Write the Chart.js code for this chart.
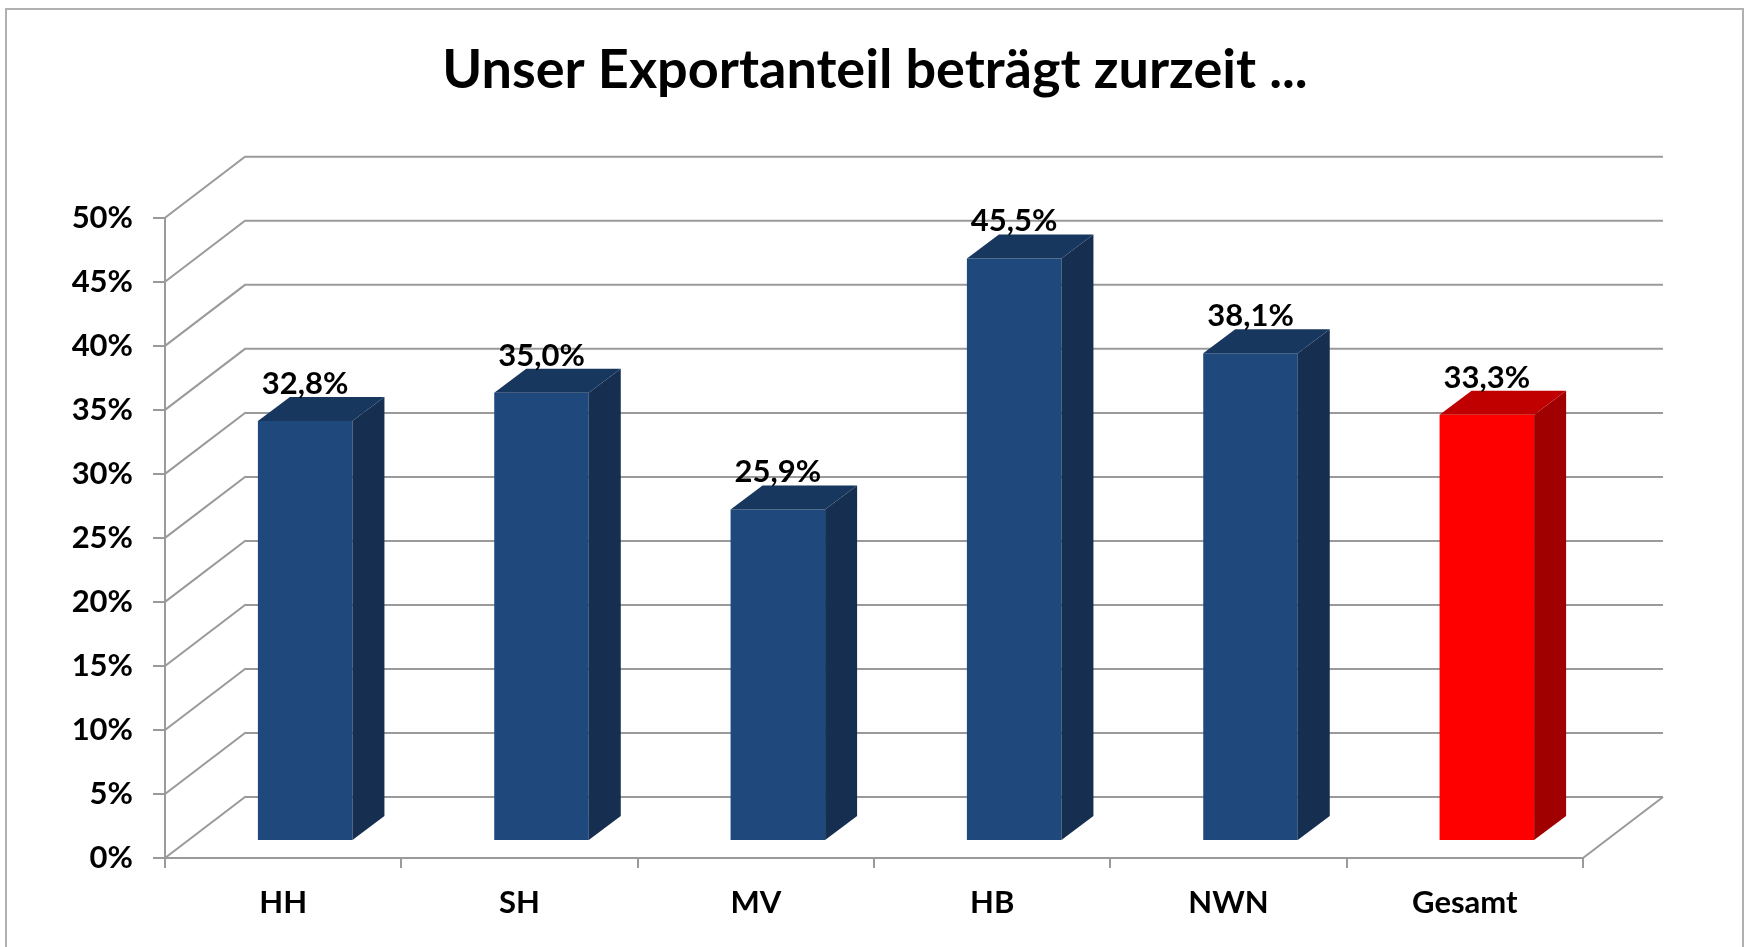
<!DOCTYPE html>
<html>
<head>
<meta charset="utf-8">
<script src="https://cdn.jsdelivr.net/npm/chart.js@4.4.0/dist/chart.umd.min.js"></script>
<style>
  html, body { margin: 0; padding: 0; background: #fff; }
  #wrap { width: 1750px; height: 947px; }
</style>
</head>
<body>
<div id="wrap"><canvas id="chart" width="1750" height="947"></canvas></div>
<script>
var chartTitle = "Unser Exportanteil beträgt zurzeit ...";
var categories = ["HH", "SH", "MV", "HB", "NWN", "Gesamt"];
var exportShare = [32.8, 35.0, 25.9, 45.5, 38.1, 33.3];
var axisMin = 0, axisMax = 50, axisStep = 5;

// colours per bar: front, side, top
var frontColors = ["#1F497D", "#1F497D", "#1F497D", "#1F497D", "#1F497D", "#FF0000"];
var sideColors  = ["#162F51", "#162F51", "#162F51", "#162F51", "#162F51", "#A00000"];
var topColors   = ["#17375E", "#17375E", "#17375E", "#17375E", "#17375E", "#C00000"];

var gridColor = "#9a9a9a";
var fontFamily = "Lato, 'Open Sans', sans-serif";

// oblique 3d offsets (pixels)
var wallDx = 80, wallDy = -61;
var barDx = 22, barDy = -17;
var depthDx = 32, depthDy = -24;

function pct(v) {
    return v.toFixed(1).replace(".", ",") + "%";
}

var frame3d = {
    id: "frame3d",
    beforeDraw: function(chart) {
        var ctx = chart.ctx;
        var area = chart.chartArea;
        var yScale = chart.scales.y;

        ctx.save();
        // outer frame
        ctx.strokeStyle = "#b0b0b0";
        ctx.lineWidth = 2;
        ctx.strokeRect(6, 9, 1737, 1000);

        ctx.strokeStyle = gridColor;
        ctx.lineWidth = 2;
        yScale.ticks.forEach(function(t) {
            var y = yScale.getPixelForValue(t.value);
            ctx.beginPath();
            ctx.moveTo(area.left, y);
            ctx.lineTo(area.left + wallDx, y + wallDy);
            ctx.lineTo(area.right + wallDx, y + wallDy);
            ctx.stroke();
        });
        // right edge of the floor
        ctx.beginPath();
        ctx.moveTo(area.right, area.bottom);
        ctx.lineTo(area.right + wallDx, area.bottom + wallDy);
        ctx.stroke();
        ctx.restore();
    },
    beforeDatasetsDraw: function(chart) {
        chart.ctx.save();
        chart.ctx.translate(barDx, barDy);
    },
    afterDatasetsDraw: function(chart) {
        var ctx = chart.ctx;
        var meta = chart.getDatasetMeta(0);
        meta.data.forEach(function(bar, i) {
            var l = bar.x - bar.width / 2;
            var r = bar.x + bar.width / 2;
            var top = bar.y, base = bar.base;

            ctx.fillStyle = sideColors[i];
            ctx.beginPath();
            ctx.moveTo(r, top);
            ctx.lineTo(r + depthDx, top + depthDy);
            ctx.lineTo(r + depthDx, base + depthDy);
            ctx.lineTo(r, base);
            ctx.closePath();
            ctx.fill();

            ctx.fillStyle = topColors[i];
            ctx.beginPath();
            ctx.moveTo(l, top);
            ctx.lineTo(l + depthDx, top + depthDy);
            ctx.lineTo(r + depthDx, top + depthDy);
            ctx.lineTo(r, top);
            ctx.closePath();
            ctx.fill();

            ctx.fillStyle = "#000";
            ctx.font = "bold 31px " + fontFamily;
            ctx.textAlign = "center";
            ctx.textBaseline = "middle";
            ctx.fillText(pct(exportShare[i]), bar.x, top - 37);
        });
        ctx.restore();
    }
};

var ctx = document.getElementById("chart").getContext("2d");
var chart = new Chart(ctx, {
    type: "bar",
    data: {
        labels: categories,
        datasets: [{
            data: exportShare,
            backgroundColor: frontColors,
            borderWidth: 0,
            barPercentage: 0.4,
            categoryPercentage: 1.0
        }]
    },
    options: {
        responsive: false,
        animation: false,
        devicePixelRatio: 1,
        layout: {
            padding: 0
        },
        plugins: {
            legend: { display: false },
            tooltip: { enabled: false },
            title: {
                display: true,
                text: chartTitle,
                color: "#000",
                font: { family: fontFamily, size: 54, weight: "bold", lineHeight: 1.2 },
                padding: { top: 38, bottom: 115 }
            }
        },
        scales: {
            x: {
                offset: true,
                grid: {
                    offset: true,
                    drawOnChartArea: false,
                    drawTicks: true,
                    tickLength: 10,
                    color: gridColor,
                    lineWidth: 2
                },
                border: { display: true, color: gridColor, width: 2 },
                ticks: {
                    color: "#000",
                    padding: 16,
                    font: { family: fontFamily, size: 31, weight: "bold" }
                },
                afterFit: function(scale) { scale.height = 89; }
            },
            y: {
                min: axisMin,
                max: axisMax,
                grid: {
                    drawOnChartArea: false,
                    drawTicks: true,
                    tickLength: 12,
                    color: gridColor,
                    lineWidth: 2
                },
                border: { display: true, color: gridColor, width: 2 },
                ticks: {
                    stepSize: axisStep,
                    color: "#000",
                    padding: 20,
                    font: { family: fontFamily, size: 31, weight: "bold" },
                    callback: function(v) { return v + "%"; }
                },
                afterFit: function(scale) { scale.width = 165; }
            },
            // empty right-hand strip so the plot ends where the reference does
            yRight: {
                position: "right",
                display: true,
                grid: { display: false },
                border: { display: false },
                ticks: { display: false },
                afterFit: function(scale) { scale.width = 167; }
            }
        }
    },
    plugins: [frame3d]
});
</script>
</body>
</html>
